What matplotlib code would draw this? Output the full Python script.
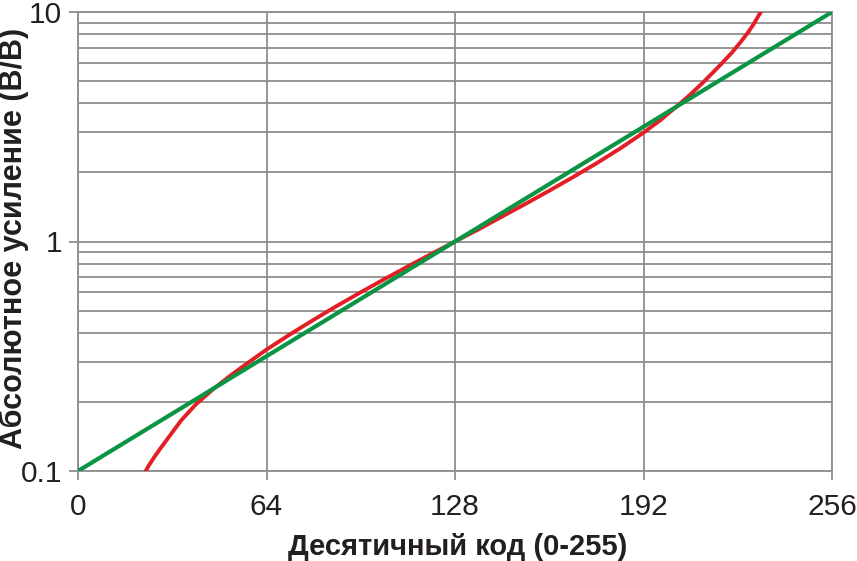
import numpy as np
import matplotlib
matplotlib.use("Agg")
import matplotlib.pyplot as plt
from matplotlib.ticker import FixedLocator, NullLocator

plt.rcParams['font.family'] = ['Liberation Sans', 'DejaVu Sans']

# values
red_code = [23, 24, 26, 28, 31, 35, 40, 46, 52, 58, 64, 72, 80, 88, 96, 104, 112,
            120, 128, 136, 144, 152, 160, 168, 176, 184, 192, 198, 204, 208, 212,
            216, 219, 222, 225, 227.5, 229.5, 231.8]
red_gain = [0.100, 0.1055, 0.1155, 0.1255, 0.1415, 0.166, 0.195, 0.228, 0.262,
            0.298, 0.338, 0.394, 0.456, 0.525, 0.601, 0.685, 0.779, 0.883, 1.00,
            1.13, 1.285, 1.46, 1.665, 1.905, 2.19, 2.54, 2.98, 3.40, 3.95, 4.38,
            4.90, 5.52, 6.05, 6.65, 7.40, 8.15, 8.90, 10.0]
green_code = [0, 256]
green_gain = [0.1, 10]

x_ticks = [0, 64, 128, 192, 256]
y_ticks = [0.1, 1, 10]
y_tick_labels = ['0.1', '1', '10']
y_grid = [0.2, 0.3, 0.4, 0.5, 0.6, 0.7, 0.8, 0.9, 2, 3, 4, 5, 6, 7, 8, 9]

grid_col = '#8e8e8e'
text_col = '#231f20'

fig = plt.figure(figsize=(8.57, 5.61), dpi=100)
ax = fig.add_axes([78 / 857, 90 / 561, 754 / 857, 459 / 561])

ax.set_yscale('log')
ax.set_xlim(0, 256)
ax.set_ylim(0.1, 10)

for x in x_ticks:
    ax.axvline(x, color=grid_col, lw=1.3, zorder=1)
for y in y_ticks + y_grid:
    ax.axhline(y, color=grid_col, lw=1.3, zorder=1)

ax.plot(red_code, red_gain, color='#e31e24', lw=2.8, zorder=3)
ax.plot(green_code, green_gain, color='#0b9444', lw=3.0, zorder=4,
        solid_capstyle='round')

ax.xaxis.set_major_locator(FixedLocator(x_ticks))
ax.yaxis.set_major_locator(FixedLocator(y_ticks))
ax.yaxis.set_minor_locator(NullLocator())
ax.set_yticklabels(y_tick_labels)
ax.tick_params(axis='both', which='major', length=6.5, width=1.3, color=grid_col,
               labelsize=21.5, labelcolor=text_col, pad=5)
ax.tick_params(axis='x', pad=9)

for s in ax.spines.values():
    s.set_color(grid_col)
    s.set_linewidth(1.3)

fig.text(458 / 857, 1 - 555 / 561, 'Десятичный код (0-255)', fontsize=21,
         fontweight='bold', color=text_col, ha='center', va='baseline')
fig.text(14 / 857, 1 - 238 / 561, 'Абсолютное усиление (В/В)', fontsize=22,
         fontweight='bold', color=text_col, rotation=90, ha='center', va='center')

fig.savefig('out.png', dpi=100)
